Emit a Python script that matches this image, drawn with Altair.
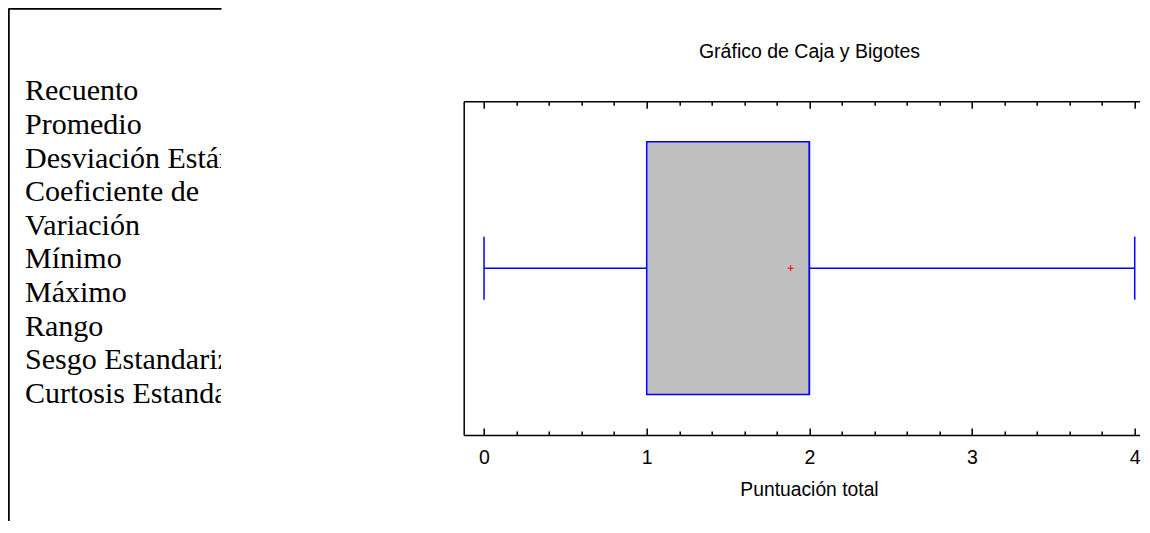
import altair as alt
import pandas as pd

# ---- Left text panel (summary statistics labels, clipped pane) ----
etiquetas = ["Recuento", "Promedio", "Desviación Estándar", "Coeficiente de",
             "Variación", "Mínimo", "Máximo", "Rango", "Sesgo Estandarizado",
             "Curtosis Estandarizada"]

# ---- Box-and-whisker statistics for "Puntuación total" ----
minimo = [0.0]
q1 = [1.0]
mediana = [2.0]
q3 = [2.0]
maximo = [4.0]
media = [1.885]

major_ticks = [0, 1, 2, 3, 4]
minor_ticks = [0.2, 0.4, 0.6, 0.8, 1.2, 1.4, 1.6, 1.8,
               2.2, 2.4, 2.6, 2.8, 3.2, 3.4, 3.6, 3.8]

BLUE = "#0000ff"

# ---------------- left pane ----------------
df_text = pd.DataFrame({"etiqueta": etiquetas, "fila": list(range(len(etiquetas)))})
LEFT_H = 513
LEFT_W = 213
left = alt.Chart(df_text).mark_text(
    align="left", baseline="alphabetic", font="Liberation Serif",
    fontSize=30, color="black", clip=True
).encode(
    x=alt.XDatum(0, type="quantitative",
                 scale=alt.Scale(domain=[-17, LEFT_W - 17], nice=False, zero=False),
                 axis=alt.Axis(orient="top", domain=True, ticks=False, tickSize=0,
                               labels=False, grid=False, title=None,
                               domainWidth=2.5, domainColor="black")),
    y=alt.Y("fila:Q",
            scale=alt.Scale(domain=[-2.751, -2.751 + LEFT_H / 33.6], range=[0, LEFT_H],
                            nice=False, zero=False),
            axis=alt.Axis(orient="left", domain=True, ticks=False, tickSize=0,
                          labels=False, grid=False, title=None,
                          domainWidth=2.5, domainColor="black")),
    text="etiqueta:N",
).properties(width=LEFT_W, height=LEFT_H)

# ---------------- box plot ----------------
df_box = pd.DataFrame({"minimo": minimo, "q1": q1, "mediana": mediana,
                       "q3": q3, "maximo": maximo, "media": media})
df_caps = pd.DataFrame({"extremo": minimo + maximo})

RIGHT_W = 675.8
xscale = alt.Scale(domain=[-0.125, -0.125 + RIGHT_W / 162.67], nice=False, zero=False)
yscale = alt.Scale(domain=[-1, 1], range=[427, 93.3], nice=False, zero=False)
yaxis = alt.Axis(orient="left", domain=True, ticks=False, tickSize=0, labels=False,
                 grid=False, title=None, domainWidth=1.5)


def yenc():
    return alt.YDatum(0, type="quantitative", scale=yscale, axis=yaxis)


FRAME_TOP = 93.3
TITLE_X = 345.3
ax_top_line = alt.Axis(orient="top", offset=-FRAME_TOP, domain=True, ticks=False,
                       tickSize=0, labels=False, grid=False,
                       title="Gráfico de Caja y Bigotes", titleX=TITLE_X, titleY=-44.3,
                       titleBaseline="alphabetic", titleAlign="center",
                       titleFontSize=19.5, domainWidth=1.5)
ax_top_major = alt.Axis(orient="top", offset=-(FRAME_TOP + 7), values=major_ticks,
                        domain=False, ticks=True, tickSize=7, tickWidth=1.5,
                        labels=False, grid=False, title=None)
ax_top_minor = alt.Axis(orient="top", offset=-(FRAME_TOP + 4), values=minor_ticks,
                        domain=False, ticks=True, tickSize=4, tickWidth=1.5,
                        labels=False, grid=False, title=None)
ax_bot_line = alt.Axis(orient="bottom", offset=0, values=major_ticks, domain=True,
                       ticks=False, tickSize=0, labels=True, labelPadding=28.3,
                       labelBaseline="alphabetic", labelFontSize=19.5, format="d",
                       grid=False, title="Puntuación total", titleX=TITLE_X, titleY=60,
                       titleBaseline="alphabetic", titleAlign="center",
                       titleFontSize=19.3, domainWidth=1.5)
ax_bot_major = alt.Axis(orient="bottom", offset=-7, values=major_ticks, domain=False,
                        ticks=True, tickSize=7, tickWidth=1.5, labels=False,
                        grid=False, title=None)
ax_bot_minor = alt.Axis(orient="bottom", offset=-4, values=minor_ticks, domain=False,
                        ticks=True, tickSize=4, tickWidth=1.5, labels=False,
                        grid=False, title=None)

caja = alt.Chart(df_box).mark_bar(
    orient="horizontal", size=252.7, fill="#c0c0c0", stroke=BLUE, strokeWidth=1.5
).encode(x=alt.X("q1:Q", scale=xscale, axis=ax_top_line), x2="q3:Q", y=yenc())

bigote_izq = alt.Chart(df_box).mark_rule(color=BLUE, strokeWidth=1.5).encode(
    x=alt.X("minimo:Q", scale=xscale, axis=ax_top_major), x2="q1:Q", y=yenc())

bigote_der = alt.Chart(df_box).mark_rule(color=BLUE, strokeWidth=1.5).encode(
    x=alt.X("q3:Q", scale=xscale, axis=ax_top_minor), x2="maximo:Q", y=yenc())

topes = alt.Chart(df_caps).mark_tick(
    orient="vertical", size=63, thickness=1.5, color=BLUE, opacity=1
).encode(x=alt.X("extremo:Q", scale=xscale, axis=ax_bot_line), y=yenc())

linea_mediana = alt.Chart(df_box).mark_tick(
    orient="vertical", size=252.7, thickness=1.5, color=BLUE, opacity=1
).encode(x=alt.X("mediana:Q", scale=xscale, axis=ax_bot_major), y=yenc())

punto_media = alt.Chart(df_box).mark_point(
    shape="M-1,0L1,0M0,-1L0,1", size=36, stroke="red", strokeWidth=1,
    filled=False, opacity=1
).encode(x=alt.X("media:Q", scale=xscale, axis=ax_bot_minor), y=yenc())

right = alt.layer(caja, bigote_izq, bigote_der, topes, linea_mediana, punto_media
                  ).resolve_axis(x="independent").properties(width=RIGHT_W, height=427)

chart = alt.hconcat(left, right, spacing=242.7).properties(
    padding=0
).configure_view(stroke=None).configure_axis(
    labelFont="Liberation Sans", titleFont="Liberation Sans",
    titleFontWeight="normal", labelColor="black", titleColor="black",
    domainColor="black", tickColor="black", grid=False
)

chart.save("out.html", embed_options={"renderer": "svg", "actions": False})
